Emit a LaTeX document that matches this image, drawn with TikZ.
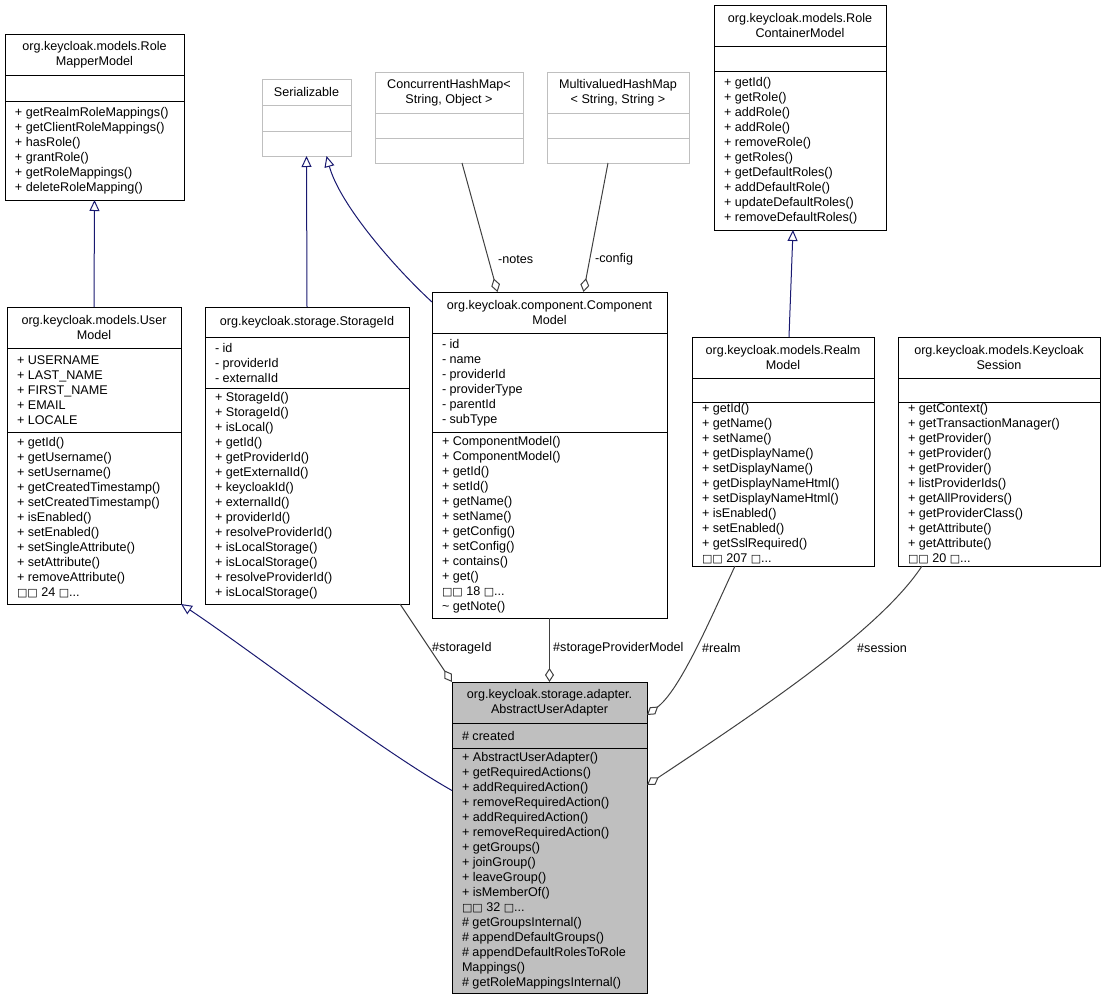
\documentclass[tikz,border=0pt]{standalone}
\usepackage{fontspec}
\setmainfont{Liberation Sans}
\newfontfamily\tofufont{DejaVu Sans}
\usetikzlibrary{arrows.meta, shapes}

\definecolor{umlnavy}{HTML}{191970}
\definecolor{edgegray}{HTML}{404040}
\definecolor{extgray}{HTML}{BFBFBF}
\definecolor{focusgray}{HTML}{BFBFBF}

\newcommand{\classfont}{\fontsize{12.6}{15}\selectfont}
\newcommand{\ctitle}[3]{\parbox[c][#2][c]{#1}{\centering #3}}
\newcommand{\cbody}[3]{\parbox[c][\dimexpr#2-1pt\relax][c]{#1}{\raggedright\leftskip=10pt #3}}
\newcommand{\tofu}{{\tofufont\fontsize{11}{15}\selectfont □}}
\newcommand{\moreitems}[1]{\tofu\tofu\ #1 \tofu...}

\tikzset{
  classbox/.style={rectangle split, rectangle split parts=3, draw=black, line width=1pt,
    fill=white, inner sep=0pt, outer sep=0pt, anchor=north west, font=\classfont},
  extbox/.style={classbox, draw=extgray},
  focusbox/.style={classbox, fill=focusgray},
  inherit/.style={draw=umlnavy, line width=1pt, -{Triangle[open, length=11pt, width=10pt, fill=white]}},
  aggregate/.style={draw=edgegray, line width=1pt, -{Diamond[open, length=14pt, width=9pt, fill=white]}},
  edgelabel/.style={font=\classfont, inner sep=0pt, anchor=west},
}

\begin{document}
\begin{tikzpicture}[x=1pt, y=-1pt]
\useasboundingbox (0,0) rectangle (1104,999);

% top row
\node[classbox] (rolemapper) at (5,34) {\ctitle{179pt}{40pt}{org.keycloak.models.Role\\MapperModel}
  \nodepart{two}\cbody{179pt}{26pt}{}
  \nodepart{three}\cbody{179pt}{99pt}{+ getRealmRoleMappings()\\+ getClientRoleMappings()\\+ hasRole()\\+ grantRole()\\+ getRoleMappings()\\+ deleteRoleMapping()}};
\node[extbox] (serializable) at (262,79) {\ctitle{89pt}{25pt}{Serializable}
  \nodepart{two}\cbody{89pt}{26pt}{}
  \nodepart{three}\cbody{89pt}{25pt}{}};
\node[extbox] (concurrent) at (375,72) {\ctitle{148pt}{40pt}{ConcurrentHashMap<\\String, Object >}
  \nodepart{two}\cbody{148pt}{25pt}{}
  \nodepart{three}\cbody{148pt}{25pt}{}};
\node[extbox] (multivalued) at (547,72) {\ctitle{142pt}{40pt}{MultivaluedHashMap\\< String, String >}
  \nodepart{two}\cbody{142pt}{25pt}{}
  \nodepart{three}\cbody{142pt}{25pt}{}};
\node[classbox] (rolecontainer) at (714,5) {\ctitle{172pt}{40pt}{org.keycloak.models.Role\\ContainerModel}
  \nodepart{two}\cbody{172pt}{25pt}{}
  \nodepart{three}\cbody{172pt}{159pt}{+ getId()\\+ getRole()\\+ addRole()\\+ addRole()\\+ removeRole()\\+ getRoles()\\+ getDefaultRoles()\\+ addDefaultRole()\\+ updateDefaultRoles()\\+ removeDefaultRoles()}};

% middle row
\node[classbox] (usermodel) at (7,307) {\ctitle{174pt}{40pt}{org.keycloak.models.User\\Model}
  \nodepart{two}\cbody{174pt}{84pt}{+ USERNAME\\+ LAST\_NAME\\+ FIRST\_NAME\\+ EMAIL\\+ LOCALE}
  \nodepart{three}\cbody{174pt}{172pt}{+ getId()\\+ getUsername()\\+ setUsername()\\+ getCreatedTimestamp()\\+ setCreatedTimestamp()\\+ isEnabled()\\+ setEnabled()\\+ setSingleAttribute()\\+ setAttribute()\\+ removeAttribute()\\\moreitems{24}}};
\node[classbox] (storageid) at (205,307) {\ctitle{204pt}{29pt}{org.keycloak.storage.StorageId}
  \nodepart{two}\cbody{204pt}{51pt}{- id\\- providerId\\- externalId}
  \nodepart{three}\cbody{204pt}{216pt}{+ StorageId()\\+ StorageId()\\+ isLocal()\\+ getId()\\+ getProviderId()\\+ getExternalId()\\+ keycloakId()\\+ externalId()\\+ providerId()\\+ resolveProviderId()\\+ isLocalStorage()\\+ isLocalStorage()\\+ resolveProviderId()\\+ isLocalStorage()}};
\node[classbox] (component) at (432,292) {\ctitle{235pt}{40pt}{org.keycloak.component.Component\\Model}
  \nodepart{two}\cbody{235pt}{99pt}{- id\\- name\\- providerId\\- providerType\\- parentId\\- subType}
  \nodepart{three}\cbody{235pt}{186pt}{+ ComponentModel()\\+ ComponentModel()\\+ getId()\\+ setId()\\+ getName()\\+ setName()\\+ getConfig()\\+ setConfig()\\+ contains()\\+ get()\\\moreitems{18}\\\textasciitilde{} getNote()}};
\node[classbox] (realm) at (692,337) {\ctitle{182pt}{40pt}{org.keycloak.models.Realm\\Model}
  \nodepart{two}\cbody{182pt}{24pt}{}
  \nodepart{three}\cbody{182pt}{164pt}{+ getId()\\+ getName()\\+ setName()\\+ getDisplayName()\\+ setDisplayName()\\+ getDisplayNameHtml()\\+ setDisplayNameHtml()\\+ isEnabled()\\+ setEnabled()\\+ getSslRequired()\\\moreitems{207}}};
\node[classbox] (session) at (898,337) {\ctitle{202pt}{40pt}{org.keycloak.models.Keycloak\\Session}
  \nodepart{two}\cbody{202pt}{24pt}{}
  \nodepart{three}\cbody{202pt}{164pt}{+ getContext()\\+ getTransactionManager()\\+ getProvider()\\+ getProvider()\\+ getProvider()\\+ listProviderIds()\\+ getAllProviders()\\+ getProviderClass()\\+ getAttribute()\\+ getAttribute()\\\moreitems{20}}};

% bottom
\node[focusbox] (adapter) at (452,682) {\ctitle{195pt}{40pt}{org.keycloak.storage.adapter.\\AbstractUserAdapter}
  \nodepart{two}\cbody{195pt}{25pt}{\# created}
  \nodepart{three}\cbody{195pt}{245pt}{+ AbstractUserAdapter()\\+ getRequiredActions()\\+ addRequiredAction()\\+ removeRequiredAction()\\+ addRequiredAction()\\+ removeRequiredAction()\\+ getGroups()\\+ joinGroup()\\+ leaveGroup()\\+ isMemberOf()\\\moreitems{32}\\\# getGroupsInternal()\\\# appendDefaultGroups()\\\# appendDefaultRolesToRole\\Mappings()\\\# getRoleMappingsInternal()}};

% inheritance
\draw[inherit] (usermodel.north) -- (rolemapper.south);
\draw[inherit] (storageid.north) -- (serializable.south);
\draw[inherit] ([yshift=-10pt]component.north west) .. controls (395,268) and (340,205) .. ([xshift=20pt]serializable.south);
\draw[inherit] ([xshift=6pt]realm.north) -- ([xshift=-7pt]rolecontainer.south);
\draw[inherit] ([yshift=47pt]adapter.west) .. controls (380,750) and (250,650) .. (usermodel.south east);

% aggregation
\draw[aggregate] ([xshift=13pt]concurrent.south) -- ([xshift=-52pt]component.north);
\draw[aggregate] ([xshift=-10pt]multivalued.south) -- ([xshift=34pt]component.north);
\draw[aggregate] ([xshift=-9pt]storageid.south east) -- (adapter.north west);
\draw[aggregate] (component.south) -- (adapter.north);
\draw[aggregate] ([xshift=-48pt]realm.south) .. controls (710,620) and (680,690) .. ([yshift=-33pt]adapter.north east);
\draw[aggregate] ([xshift=-77pt]session.south) .. controls (880,630) and (760,710) .. ([yshift=-103pt]adapter.north east);

% labels
\node[edgelabel] (noteslabel) at (498,259) {-notes};
\node[edgelabel] (configlabel) at (595,259) {-config};
\node[edgelabel] (storageidlabel) at (432,648) {\#storageId};
\node[edgelabel] (providerlabel) at (553,648) {\#storageProviderModel};
\node[edgelabel] (realmlabel) at (702,648) {\#realm};
\node[edgelabel] (sessionlabel) at (857,648) {\#session};
\end{tikzpicture}
\end{document}
